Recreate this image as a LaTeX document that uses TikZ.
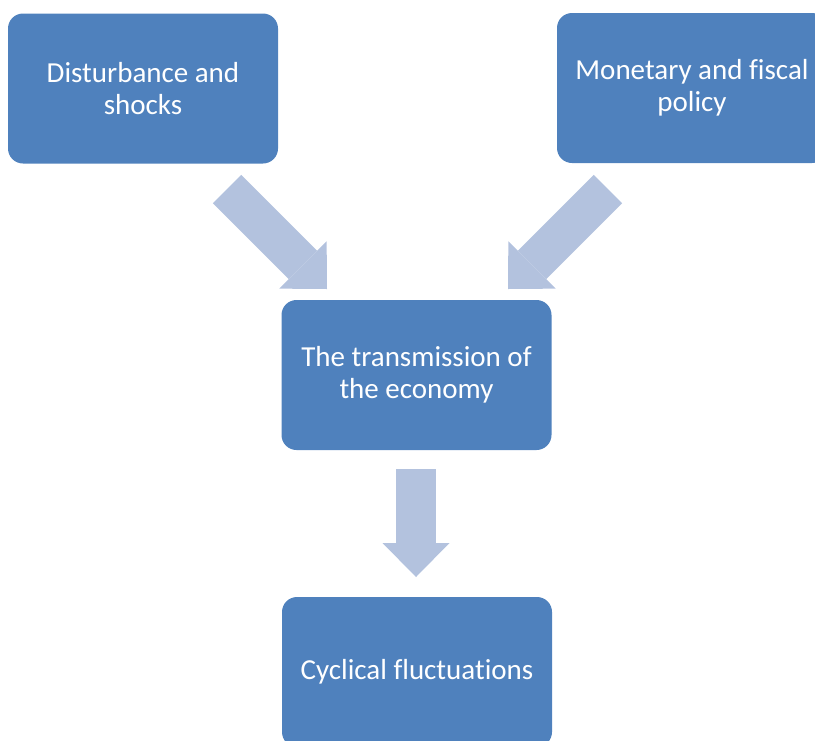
\documentclass[tikz,border=0pt]{standalone}
\usepackage{fontspec}
\setmainfont[Ligatures=NoCommon]{Carlito}
\usetikzlibrary{arrows.meta}
\definecolor{boxblue}{HTML}{4F81BD}
\definecolor{arrowblue}{HTML}{B3C2DE}
\begin{document}
\begin{tikzpicture}[x=1pt, y=-1pt, font=\fontsize{29}{32}\selectfont]
\tikzstyle{box}=[fill=boxblue, text=white, rounded corners=15pt, minimum width=270pt, minimum height=150pt, align=center]
\tikzstyle{blockarrow}=[draw=arrowblue, line width=40pt, -{Triangle[length=34pt, width=67pt, line width=0pt, fill=arrowblue]}]
\clip (0,0) rectangle (815,740);
\node[box] (shocks) at (143,88.5) {Disturbance and\\shocks};
\node[box] (policy) at (692,88) {Monetary and fiscal\\policy};
\node[box] (transm) at (416.5,375) {The transmission of\\the economy};
\node[box] (cycle) at (417,672) {Cyclical fluctuations};
\coordinate (sa) at (227,189); \coordinate (sb) at (327,289);
\coordinate (pa) at (608,189); \coordinate (pb) at (508,289);
\coordinate (ta) at (416,469); \coordinate (tb) at (416,577);
\draw[blockarrow] (sa) -- (sb);
\draw[blockarrow] (pa) -- (pb);
\draw[blockarrow] (ta) -- (tb);
\end{tikzpicture}
\end{document}
